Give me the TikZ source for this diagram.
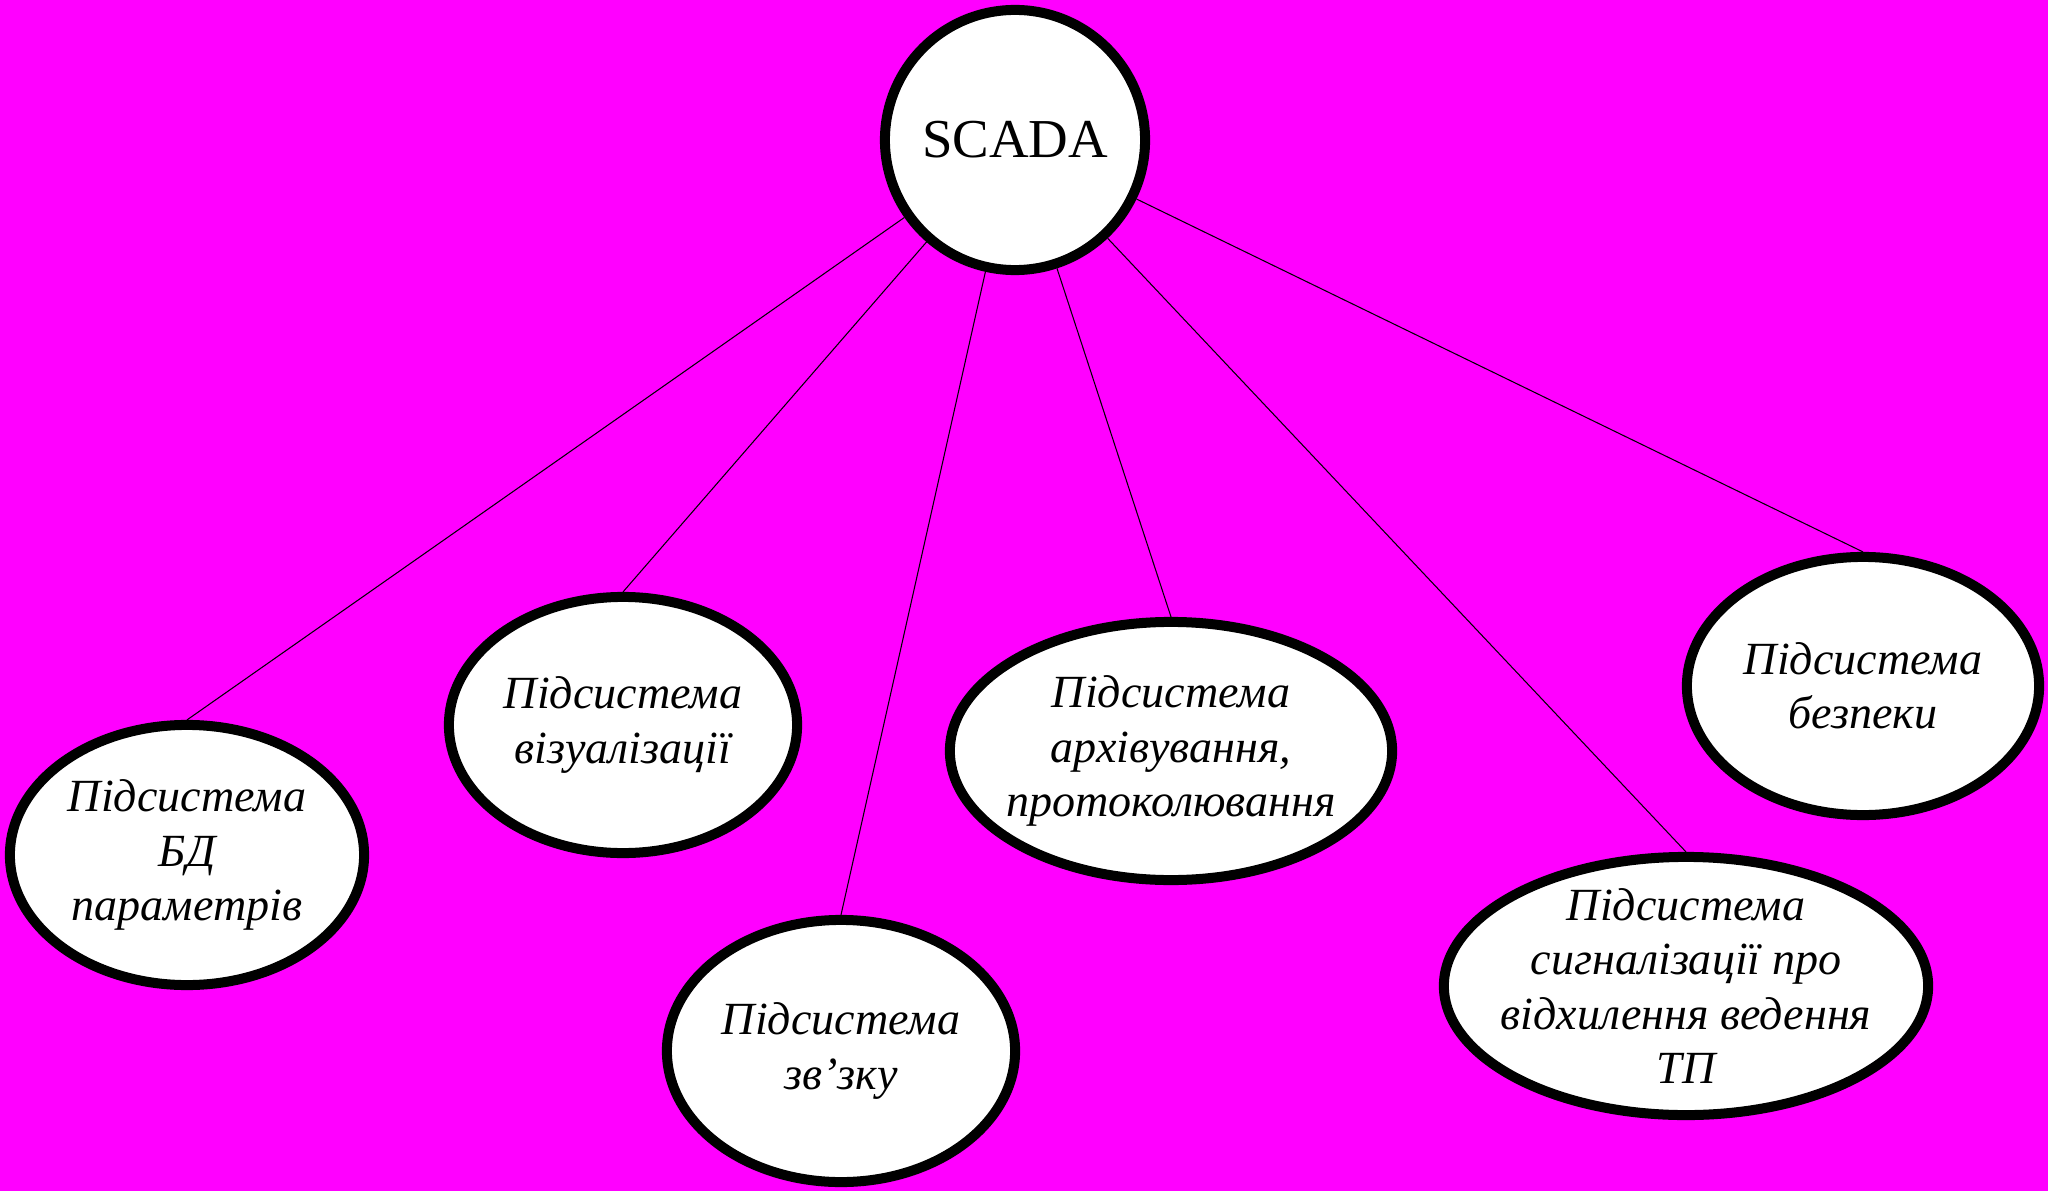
\documentclass[tikz,border=0pt]{standalone}
\usepackage{fontspec}
\setmainfont{Liberation Serif}
\usetikzlibrary{shapes.geometric}
\definecolor{bgpink}{RGB}{255,0,255}

\begin{document}
\begin{tikzpicture}[x=0.01cm, y=-0.01cm,
        sub/.style={ellipse, draw=black, fill=white, line width=0.1cm,
        inner sep=-1cm, align=center, font=\fontsize{13.1}{15.4}\selectfont\itshape},
        link/.style={draw=black, line width=0.3pt}]
        \fill[bgpink] (0,0) rectangle (2048,1191);
        \useasboundingbox (0,0) rectangle (2048,1191);
        \node[circle, draw=black, fill=white, line width=0.1cm, minimum size=2.6cm,
        font=\fontsize{15.6}{18}\selectfont] (scada) at (1015,140) {SCADA};
        \node[sub, minimum width=3.54cm, minimum height=2.6cm] (bd) at (187,855)
        {Підсистема\\БД\\параметрів};
        \node[sub, minimum width=3.48cm, minimum height=2.56cm] (viz) at (623,725)
        {Підсистема\\візуалізації};
        \node[sub, minimum width=3.48cm, minimum height=2.62cm] (zv) at (841,1051)
        {Підсистема\\зв’зку};
        \node[sub, minimum width=4.42cm, minimum height=2.58cm] (arch) at (1171,751)
        {Підсистема\\архівування,\\протоколювання};
        \node[sub, minimum width=4.84cm, minimum height=2.58cm] (sig) at (1686,986)
        {Підсистема\\сигналізації про\\відхилення ведення\\ТП};
        \node[sub, minimum width=3.52cm, minimum height=2.58cm] (bez) at (1863,686)
        {Підсистема\\безпеки};
        \foreach \n in {bd,viz,zv,arch,sig,bez}
        \draw[link] (scada) -- (\n.north);
    \end{tikzpicture}
\end{document}
